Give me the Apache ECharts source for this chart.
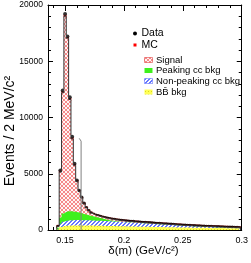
<!DOCTYPE html>
<html><head><meta charset="utf-8">
<script src="https://cdn.jsdelivr.net/npm/echarts@6/dist/echarts.min.js"></script>
<style>html,body{margin:0;padding:0;background:#fff}#c{width:251px;height:263px}</style>
</head><body><div id="c"></div>
<script>
// bin centres of delta(m) in GeV/c^2 (2 MeV bins)
const BIN_CENTERS = [0.144,0.146,0.148,0.150,0.152,0.154,0.156,0.158,0.160,0.162,0.164,0.166,0.168,0.170,0.172,0.174,0.176,0.178,0.180,0.182,0.184,0.186,0.188,0.190,0.192,0.194,0.196,0.198,0.200,0.202,0.204,0.206,0.208,0.210,0.212,0.214,0.216,0.218,0.220,0.222,0.224,0.226,0.228,0.230,0.232,0.234,0.236,0.238,0.240,0.242,0.244,0.246,0.248,0.250,0.252,0.254,0.256,0.258,0.260,0.262,0.264,0.266,0.268,0.270,0.272,0.274,0.276,0.278,0.280,0.282,0.284,0.286,0.288,0.290,0.292,0.294,0.296,0.298];
const BIN_WIDTH = 0.002;
const DATA = [300,5300,12400,19200,17200,11800,8300,5900,4400,3500,2900,2350,1950,1680,1480,1380,1300,1240,1180,1120,1075,1020,985,940,915,875,850,825,800,780,765,740,725,700,690,668,655,642,625,612,592,585,565,548,538,520,508,488,478,460,448,432,418,402,392,378,372,358,352,338,332,318,312,298,292,280,276,264,260,248,244,232,228,216,212,200,196,186];
const BB_BKG = [80,260,340,370,385,395,400,405,400,405,400,398,395,392,390,386,382,378,372,368,364,360,355,350,346,342,336,330,326,320,315,310,305,300,296,292,288,284,280,276,272,268,264,260,256,252,248,244,240,236,232,228,224,220,217,214,211,208,205,202,199,196,193,190,187,184,181,178,175,172,169,166,163,160,158,156,154,152];
const NONPEAK_BKG = [70,300,400,440,460,470,475,478,480,478,476,472,468,464,460,455,450,445,440,433,426,419,412,405,398,390,382,374,366,358,350,342,334,326,318,310,302,294,286,278,270,262,254,246,238,230,222,214,206,198,190,182,174,166,158,150,142,134,126,118,110,102,95,88,81,74,68,62,56,50,45,40,36,32,28,25,22,20];
const PEAK_BKG = [60,550,720,800,820,800,770,730,690,640,590,540,490,440,400,350,310,270,230,190,150,115,85,60,40,25,15,10,5,0,0,0,0,0,0,0,0,0,0,0,0,0,0,0,0,0,0,0,0,0,0,0,0,0,0,0,0,0,0,0,0,0,0,0,0,0,0,0,0,0,0,0,0,0,0,0,0,0];
const SIGNAL = [110,4040,10740,17390,15385,9935,6455,4137,2730,1897,1374,910,607,404,250,199,158,142,138,134,130,131,128,130,126,123,117,111,103,102,95,90,83,78,74,69,65,62,59,56,53,50,48,46,44,42,40,38,36,34,32,30,28,26,25,24,23,22,23,24,25,26,26,26,28,30,31,32,33,34,34,34,33,32,30,27,24,20];
const X_TICKS = [0.15,0.2,0.25,0.3];
const X_TICK_LABELS = ['0.15','0.2','0.25','0.3'];
const X_MINOR = [0.14,0.16,0.17,0.18,0.19,0.21,0.22,0.23,0.24,0.26,0.27,0.28,0.29];
const Y_TICK_LABELS = ['0','5000','10000','15000','20000'];
const CUT_X = 0.1636, CUT_Y = 8000;
const LEGEND = ['Data','MC','Signal','Peaking cc bkg','Non-peaking cc bkg','BB\u0304 bkg'];

function pattern(size, bg, pts, fg){
  const c=document.createElement('canvas'); c.width=size; c.height=size;
  const g=c.getContext('2d'); g.fillStyle=bg; g.fillRect(0,0,size,size);
  g.fillStyle=fg; pts.forEach(p=>g.fillRect(p[0],p[1],1,1));
  return {image:c, repeat:'repeat'};
}
const patSig = pattern(4,'#fff4f4',[[0,0],[1,1],[2,2],[3,3],[3,0],[2,1],[1,2],[0,3]],'#f58a8a');
const patBlue = pattern(4,'#ffffff',[[3,0],[2,1],[1,2],[0,3],[0,0],[3,1],[2,2],[1,3]],'#6677ff');
const patYel = pattern(3,'#ffff55',[[1,1]],'#d8d820');
const GREEN = '#3ef01c';

function stepPts(vals){
  const h=BIN_WIDTH/2, n=BIN_CENTERS.length;
  const out=[[BIN_CENTERS[0]-h,0],[BIN_CENTERS[0]-h,vals[0]]];
  for(let i=0;i<n;i++) out.push([BIN_CENTERS[i],vals[i]]);
  out.push([BIN_CENTERS[n-1]+h,vals[n-1]]);
  out.push([BIN_CENTERS[n-1]+h,0]);
  return out;
}
const cumY = BB_BKG.slice();
const cumB = cumY.map((v,i)=>v+NONPEAK_BKG[i]);
const cumG = cumB.map((v,i)=>v+PEAK_BKG[i]);
const cumS = cumG.map((v,i)=>v+SIGNAL[i]);

const FONT = '"Liberation Sans", Arial, Helvetica, sans-serif';
function area(vals, color){
  return {type:'line', step:'middle', data:stepPts(vals), symbol:'none', silent:true,
    lineStyle:{width:0,opacity:0}, areaStyle:{color:color, opacity:1}};
}
function xAx(pos, major){
  return {type:'value', min:0.1355, max:0.3, position:pos, gridIndex:0,
    axisLine:{show:major, onZero:false, lineStyle:{color:'#000',width:1}},
    axisTick:{show:true, inside:true, length: major?6:3, customValues: major?X_TICKS:X_MINOR, lineStyle:{color:'#000',width:1}},
    axisLabel:{show: major && pos==='bottom', customValues:X_TICKS, fontSize:9, fontFamily:FONT, color:'#000', margin:6,
      formatter:v=>{const i=X_TICKS.findIndex(t=>Math.abs(t-v)<1e-9); return i>=0?X_TICK_LABELS[i]:'';}},
    splitLine:{show:false}};
}
function yAx(pos){
  return {type:'value', min:0, max:20000, interval:5000, position:pos,
    axisLine:{show:true, onZero:false, lineStyle:{color:'#000',width:1}},
    axisTick:{show:true, inside:true, length:5, lineStyle:{color:'#000'}},
    minorTick:{show:true, splitNumber:5, length:3, lineStyle:{color:'#000'}},
    axisLabel:{show: pos==='left', fontSize:8.5, fontFamily:FONT, color:'#000', margin:5,
      formatter:v=>Y_TICK_LABELS[Math.round(v/5000)]},
    splitLine:{show:false}, minorSplitLine:{show:false}};
}

const chart = echarts.init(document.getElementById('c'), null, {renderer:'canvas', width:251, height:263});
const legendY = [33.5, 45, 60, 70.5, 81, 92];
const graphic = [
  {type:'circle', shape:{cx:135, cy:legendY[0], r:2}, style:{fill:'#000'}},
  {type:'text', x:141.5, y:legendY[0], style:{text:LEGEND[0], font:'10.5px '+FONT, fill:'#000', verticalAlign:'middle'}},
  {type:'rect', shape:{x:133.5, y:legendY[1]-1.5, width:3, height:3}, style:{fill:'#ff0000'}},
  {type:'text', x:141.5, y:legendY[1], style:{text:LEGEND[1], font:'10.5px '+FONT, fill:'#000', verticalAlign:'middle'}},
  {type:'rect', shape:{x:144.5, y:legendY[2]-2.5, width:8, height:5}, style:{fill:patSig, stroke:'#e04040', lineWidth:0.6}},
  {type:'rect', shape:{x:144.5, y:legendY[3]-2.5, width:8, height:5}, style:{fill:GREEN}},
  {type:'rect', shape:{x:144.5, y:legendY[4]-2.5, width:8, height:5}, style:{fill:patBlue, stroke:'#6677ff', lineWidth:0.6}},
  {type:'rect', shape:{x:144.5, y:legendY[5]-2.5, width:8, height:5}, style:{fill:patYel}},
];
for(let i=2;i<6;i++) graphic.push({type:'text', x:156, y:legendY[i], style:{text:LEGEND[i], font:'9.5px '+FONT, fill:'#000', verticalAlign:'middle'}});
graphic.push({type:'text', x:143.5, y:251, style:{text:'\u03b4(m) (GeV/c\u00b2)', font:'11.5px '+FONT, fill:'#000', align:'center', verticalAlign:'middle'}});
graphic.push({type:'text', x:10, y:131, rotation:Math.PI/2, style:{text:'Events / 2 MeV/c\u00b2', font:'14px '+FONT, fill:'#000', align:'center', verticalAlign:'middle'}});

chart.setOption({
  animation:false,
  backgroundColor:'#fff',
  grid:{left:48, right:6, top:5, bottom:33, containLabel:false},
  xAxis:[xAx('bottom',true), xAx('bottom',false), xAx('top',true), xAx('top',false)],
  yAxis:[yAx('left'), yAx('right')],
  graphic: graphic,
  series:[
    area(cumS, patSig),
    area(cumG, GREEN),
    area(cumB, patBlue),
    area(cumY, patYel),
    {type:'line', step:'middle', data:stepPts(cumS), symbol:'none', silent:true, lineStyle:{color:'#333', width:1}},
    {type:'line', data:[[CUT_X-0.0016, CUT_Y+150],[CUT_X, CUT_Y-100],[CUT_X, CUT_Y],[CUT_X,0]], symbol:'none', silent:true, lineStyle:{color:'#808080', width:1}},
    {type:'scatter', data:BIN_CENTERS.map((x,i)=>[x,cumS[i]]), symbol:'rect', symbolSize:3, itemStyle:{color:'#ff0000'}, silent:true},
    {type:'scatter', data:BIN_CENTERS.map((x,i)=>[x,DATA[i]]), symbol:'circle', symbolSize:4, itemStyle:{color:'#000'}, silent:true}
  ]
});
</script></body></html>
